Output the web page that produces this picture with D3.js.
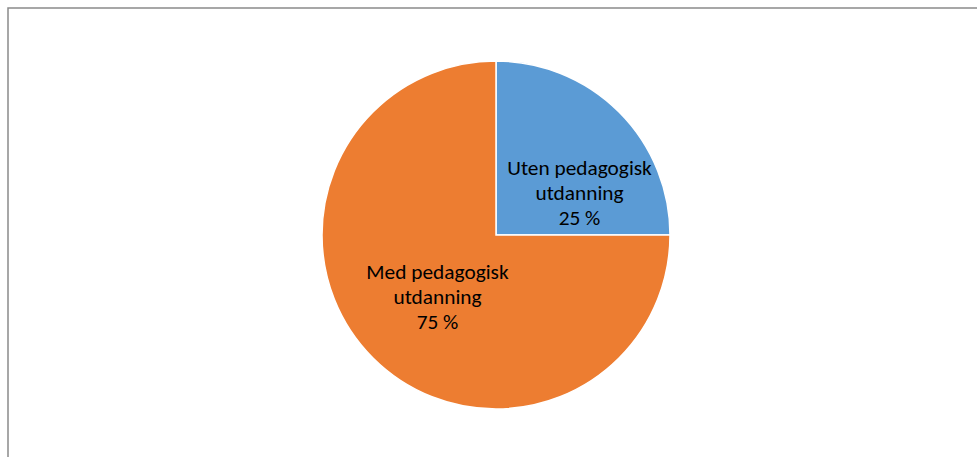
<!DOCTYPE html>
<html><head><meta charset="utf-8">
<script src="https://cdn.jsdelivr.net/npm/d3@7"></script>
<style>html,body{margin:0;padding:0;background:#fff;}svg{display:block;}</style>
</head><body>
<svg id="c" width="977" height="457"></svg>
<script>
const categories = ["Uten pedagogisk utdanning", "Med pedagogisk utdanning"];
const labelLines = [["Uten pedagogisk", "utdanning", "25 %"], ["Med pedagogisk", "utdanning", "75 %"]];
const values = [25, 75];
const colors = ["#5B9BD5", "#ED7D31"];

const svg = d3.select("#c");
svg.append("path").attr("d", "M8,457 L8,8 L977,8").attr("fill", "none").attr("stroke", "#8a8a8a").attr("stroke-width", 1.5);

const cx = 496, cy = 235, r = 174;
const pie = d3.pie().sort(null).value(d => d)(values);
const arc = d3.arc().innerRadius(0).outerRadius(r);
const g = svg.append("g").attr("transform", `translate(${cx},${cy})`);
g.selectAll("path").data(pie).enter().append("path")
  .attr("d", arc).attr("fill", (d, i) => colors[i])
  .attr("stroke", "#fff").attr("stroke-width", 1.5);

// label placement (Excel-like best fit): centroid at half radius, small slice nudged to fit
const labelArc = d3.arc().innerRadius(r * 0.5).outerRadius(r * 0.5);
const nudge = [[22, 20], [3, 0]];
const lab = g.selectAll("text.l").data(pie).enter().append("text")
  .attr("class", "l")
  .attr("font-family", "Carlito, 'Open Sans', 'Liberation Sans', sans-serif")
  .attr("font-size", 21.33).attr("fill", "#000").attr("text-anchor", "middle")
  .attr("transform", (d, i) => {
    const [x, y] = labelArc.centroid(d);
    return `translate(${x + nudge[i][0]},${y + nudge[i][1]})`;
  });
lab.each(function(d, i) {
  const t = d3.select(this);
  labelLines[i].forEach((s, k) => {
    t.append("tspan").attr("x", 0).attr("y", (k - 1) * 25 + 7).text(s);
  });
});
</script>
</body></html>
